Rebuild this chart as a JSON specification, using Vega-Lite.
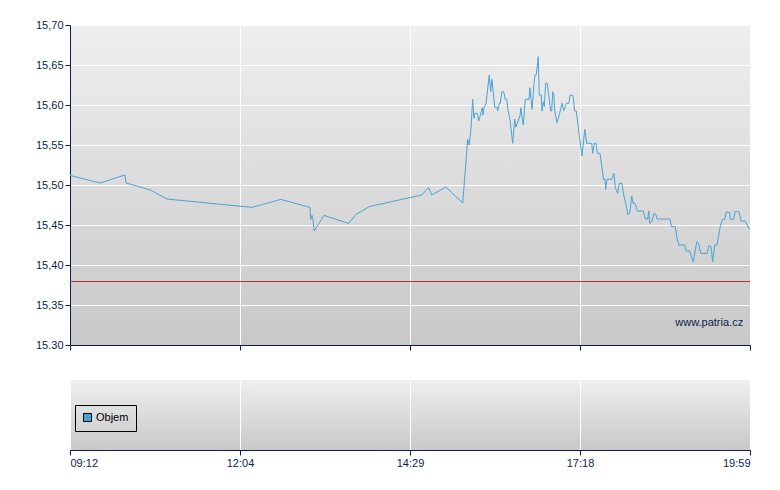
{
  "$schema": "https://vega.github.io/schema/vega-lite/v6.json",
  "background": "white",
  "padding": {"left": 35, "top": 19, "right": 10, "bottom": 10},
  "bounds": "flush",
  "spacing": 35,
  "datasets": {
    "price": [
      {"m": 552, "v": 15.512}, {"m": 582.4, "v": 15.5025}, {"m": 607.6, "v": 15.5125}, {"m": 608.7, "v": 15.5025},
      {"m": 632.9, "v": 15.494}, {"m": 650.1, "v": 15.4825}, {"m": 734.2, "v": 15.472}, {"m": 758.7, "v": 15.482},
      {"m": 783.7, "v": 15.472}, {"m": 784.3, "v": 15.457}, {"m": 785.4, "v": 15.462}, {"m": 786.0, "v": 15.459},
      {"m": 787.4, "v": 15.4425}, {"m": 795.6, "v": 15.462}, {"m": 816.7, "v": 15.452}, {"m": 822.7, "v": 15.463},
      {"m": 834.3, "v": 15.473}, {"m": 880.6, "v": 15.4875}, {"m": 887.6, "v": 15.497}, {"m": 890.6, "v": 15.4875},
      {"m": 904.5, "v": 15.4975}, {"m": 921.4, "v": 15.4775}, {"m": 926.4, "v": 15.557}, {"m": 927.7, "v": 15.55},
      {"m": 929.6, "v": 15.5696}, {"m": 931.3, "v": 15.6071}, {"m": 932.6, "v": 15.5834}, {"m": 933.3, "v": 15.5896},
      {"m": 935.9, "v": 15.5896}, {"m": 937.3, "v": 15.58}, {"m": 938.9, "v": 15.5871}, {"m": 940.9, "v": 15.5966},
      {"m": 941.6, "v": 15.5875}, {"m": 942.6, "v": 15.5971}, {"m": 944.6, "v": 15.6021}, {"m": 947.8, "v": 15.6375},
      {"m": 949.2, "v": 15.6166}, {"m": 950.5, "v": 15.6321}, {"m": 953.2, "v": 15.5971}, {"m": 955.5, "v": 15.5971},
      {"m": 956.2, "v": 15.5925}, {"m": 957.8, "v": 15.6021}, {"m": 958.8, "v": 15.6021}, {"m": 960.2, "v": 15.6166},
      {"m": 962.1, "v": 15.6166}, {"m": 963.7, "v": 15.6071}, {"m": 965.1, "v": 15.6071}, {"m": 966.1, "v": 15.5966},
      {"m": 968.4, "v": 15.5813}, {"m": 971.1, "v": 15.5521}, {"m": 973.1, "v": 15.5825}, {"m": 974.1, "v": 15.5721},
      {"m": 975.7, "v": 15.5771}, {"m": 978.3, "v": 15.5863}, {"m": 979.3, "v": 15.5966}, {"m": 980.0, "v": 15.5875},
      {"m": 981.6, "v": 15.575}, {"m": 983.6, "v": 15.6071}, {"m": 987.3, "v": 15.6071}, {"m": 988.3, "v": 15.6216},
      {"m": 989.3, "v": 15.6071}, {"m": 990.3, "v": 15.5946}, {"m": 992.3, "v": 15.6271}, {"m": 993.3, "v": 15.6375},
      {"m": 994.5, "v": 15.6375}, {"m": 996.5, "v": 15.6604}, {"m": 997.5, "v": 15.6125}, {"m": 999.5, "v": 15.6125},
      {"m": 1000.2, "v": 15.5925}, {"m": 1001.5, "v": 15.6041}, {"m": 1002.5, "v": 15.5979}, {"m": 1003.9, "v": 15.6271},
      {"m": 1005.5, "v": 15.6271}, {"m": 1006.9, "v": 15.6125}, {"m": 1008.9, "v": 15.5925}, {"m": 1009.9, "v": 15.5925},
      {"m": 1010.9, "v": 15.6166}, {"m": 1011.9, "v": 15.6146}, {"m": 1012.9, "v": 15.5925}, {"m": 1015.1, "v": 15.5779},
      {"m": 1017.4, "v": 15.5875}, {"m": 1020.1, "v": 15.6021}, {"m": 1021.8, "v": 15.5929}, {"m": 1024.4, "v": 15.6021},
      {"m": 1026.8, "v": 15.6021}, {"m": 1028.1, "v": 15.6121}, {"m": 1031.0, "v": 15.6121}, {"m": 1032.7, "v": 15.5925},
      {"m": 1034.3, "v": 15.5925}, {"m": 1037.0, "v": 15.5646}, {"m": 1039.9, "v": 15.5363}, {"m": 1042.5, "v": 15.5696},
      {"m": 1044.3, "v": 15.5521}, {"m": 1049.1, "v": 15.5521}, {"m": 1050.0, "v": 15.5396}, {"m": 1051.5, "v": 15.5521},
      {"m": 1053.2, "v": 15.5521}, {"m": 1054.4, "v": 15.5396}, {"m": 1056.9, "v": 15.5396}, {"m": 1059.1, "v": 15.5188},
      {"m": 1060.4, "v": 15.5071}, {"m": 1061.7, "v": 15.5071}, {"m": 1062.3, "v": 15.4946}, {"m": 1063.6, "v": 15.5071},
      {"m": 1068.0, "v": 15.5071}, {"m": 1070.2, "v": 15.5146}, {"m": 1071.4, "v": 15.4971}, {"m": 1073.7, "v": 15.4896},
      {"m": 1075.2, "v": 15.5021}, {"m": 1077.8, "v": 15.5021}, {"m": 1079.0, "v": 15.4896}, {"m": 1081.3, "v": 15.4771},
      {"m": 1083.5, "v": 15.4625}, {"m": 1085.1, "v": 15.4646}, {"m": 1087.0, "v": 15.4863}, {"m": 1088.2, "v": 15.4771},
      {"m": 1090.1, "v": 15.4771}, {"m": 1092.3, "v": 15.4675}, {"m": 1098.0, "v": 15.4675}, {"m": 1099.9, "v": 15.4575},
      {"m": 1102.1, "v": 15.4575}, {"m": 1103.1, "v": 15.4675}, {"m": 1104.0, "v": 15.4521}, {"m": 1105.9, "v": 15.4541},
      {"m": 1108.1, "v": 15.4646}, {"m": 1110.0, "v": 15.4625}, {"m": 1110.9, "v": 15.4575}, {"m": 1123.2, "v": 15.4575},
      {"m": 1124.8, "v": 15.4479}, {"m": 1128.3, "v": 15.4479}, {"m": 1129.6, "v": 15.4354}, {"m": 1131.5, "v": 15.425},
      {"m": 1137.2, "v": 15.425}, {"m": 1138.4, "v": 15.4175}, {"m": 1141.9, "v": 15.4175}, {"m": 1145.3, "v": 15.4041},
      {"m": 1148.6, "v": 15.4291}, {"m": 1150.4, "v": 15.4271}, {"m": 1152.3, "v": 15.4146}, {"m": 1158.6, "v": 15.4146},
      {"m": 1159.9, "v": 15.4241}, {"m": 1162.1, "v": 15.4229}, {"m": 1163.7, "v": 15.4041}, {"m": 1165.6, "v": 15.425},
      {"m": 1167.8, "v": 15.425}, {"m": 1170.6, "v": 15.4466}, {"m": 1172.8, "v": 15.4571}, {"m": 1175.1, "v": 15.4571},
      {"m": 1176.6, "v": 15.4666}, {"m": 1179.8, "v": 15.4654}, {"m": 1180.4, "v": 15.4571}, {"m": 1183.6, "v": 15.4571},
      {"m": 1184.8, "v": 15.4666}, {"m": 1188.6, "v": 15.4666}, {"m": 1190.5, "v": 15.455}, {"m": 1194.3, "v": 15.455},
      {"m": 1198.4, "v": 15.445}
    ],
    "vol": [{"m": 552, "objem": 0, "s": "Objem"}]
  },
  "config": {
    "font": "Liberation Sans",
    "view": {"stroke": null},
    "axis": {
      "domainColor": "#0b1f4e", "tickColor": "#0b1f4e", "labelColor": "#0b1f4e",
      "gridColor": "#ffffff", "gridOpacity": 1, "gridWidth": 1,
      "tickSize": 5, "labelFontSize": 11, "labelFont": "Liberation Sans",
      "title": null, "domainWidth": 1, "tickWidth": 1, "labelPadding": 2, "labelOverlap": false
    }
  },
  "vconcat": [
    {
      "width": 680,
      "height": 320,
      "view": {"fill": {"gradient": "linear", "x1": 0, "y1": 0, "x2": 0, "y2": 1,
        "stops": [{"offset": 0, "color": "#efefef"}, {"offset": 1, "color": "#c8c8c8"}]}},
      "layer": [
        {
          "data": {"name": "price"},
          "mark": {"type": "line", "color": "#4aa3d4", "strokeWidth": 1},
          "encoding": {
            "x": {"field": "m", "type": "quantitative",
              "scale": {"domain": [552, 724, 869, 1038, 1199], "range": [0, 170, 340, 510, 680], "nice": false, "zero": false},
              "axis": {"values": [552, 724, 869, 1038, 1199], "labels": false, "grid": true}},
            "y": {"field": "v", "type": "quantitative",
              "scale": {"domain": [15.3, 15.7], "nice": false, "zero": false},
              "axis": {"values": [15.3, 15.35, 15.4, 15.45, 15.5, 15.55, 15.6, 15.65, 15.7], "grid": true,
                "labelExpr": "datum.value < 15.31 ? '15.30' : replace(format(datum.value, '.2f'), '.', ',')"}}
          }
        },
        {
          "data": {"values": [{}]},
          "mark": {"type": "rule", "color": "#b83232", "strokeWidth": 1, "yOffset": 0.5},
          "encoding": {
            "y": {"datum": 15.38, "type": "quantitative",
              "axis": {"values": [15.3, 15.35, 15.4, 15.45, 15.5, 15.55, 15.6, 15.65, 15.7], "grid": true,
                "labelExpr": "datum.value < 15.31 ? '15.30' : replace(format(datum.value, '.2f'), '.', ',')"}}
          }
        },
        {
          "data": {"values": [{}]},
          "mark": {"type": "text", "align": "right", "baseline": "middle", "fontSize": 11, "color": "#0b1f4e", "font": "Liberation Sans"},
          "encoding": {
            "x": {"datum": 1192.5, "type": "quantitative",
              "axis": {"values": [552, 724, 869, 1038, 1199], "labels": false, "grid": true}},
            "y": {"datum": 15.3275, "type": "quantitative",
              "axis": {"values": [15.3, 15.35, 15.4, 15.45, 15.5, 15.55, 15.6, 15.65, 15.7], "grid": true,
                "labelExpr": "datum.value < 15.31 ? '15.30' : replace(format(datum.value, '.2f'), '.', ',')"}},
            "text": {"value": "www.patria.cz"}
          }
        }
      ]
    },
    {
      "width": 680,
      "height": 70,
      "view": {"fill": {"gradient": "linear", "x1": 0, "y1": 0, "x2": 0, "y2": 1,
        "stops": [{"offset": 0, "color": "#efefef"}, {"offset": 1, "color": "#c8c8c8"}]}},
      "data": {"name": "vol"},
      "mark": {"type": "bar", "opacity": 0},
      "encoding": {
        "x": {"field": "m", "type": "quantitative",
          "scale": {"domain": [552, 724, 869, 1038, 1199], "range": [0, 170, 340, 510, 680], "nice": false, "zero": false, "padding": 0},
          "axis": {"values": [552, 724, 869, 1038, 1199], "grid": true,
            "labelExpr": "pad(floor(datum.value / 60), 2, '0', 'left') + ':' + pad(datum.value % 60, 2, '0', 'left')"}},
        "y": {"field": "objem", "type": "quantitative", "axis": null, "scale": {"domain": [0, 1]}},
        "color": {"field": "s", "type": "nominal", "scale": {"range": ["#4aa3d4"]},
          "legend": {"orient": "none", "legendX": 5, "legendY": 380, "title": null,
            "strokeColor": "#000000", "padding": 7, "symbolType": "square", "symbolSize": 64, "symbolOpacity": 1,
            "symbolStrokeColor": "#000000", "symbolStrokeWidth": 1, "symbolFillColor": "#4aa3d4", "labelOffset": 3,
            "labelFontSize": 11, "labelColor": "#000000", "labelFont": "Liberation Sans"}}
      }
    }
  ]
}
